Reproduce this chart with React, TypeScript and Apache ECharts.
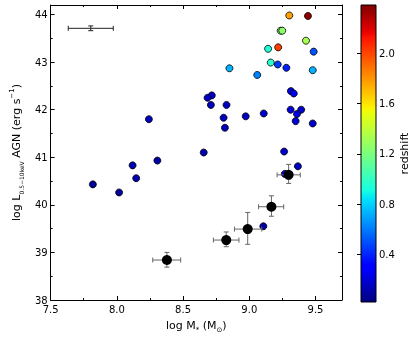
import React, { useEffect, useRef } from 'react';
import * as echarts from 'echarts';

// Individual AGN: log stellar mass, log X-ray luminosity, redshift
const agnMass = [9.302, 9.443, 9.237, 9.249, 9.428, 9.142, 9.218, 9.486, 9.162, 9.215, 9.280, 9.479, 8.850, 9.060,
  9.314, 9.336, 9.109, 9.312, 9.392, 9.360, 9.350, 9.479, 9.263, 8.717, 8.685, 8.710, 8.828, 8.806, 8.816, 8.973,
  8.656, 8.242, 8.306, 8.119, 8.146, 7.819, 8.017, 9.367, 9.268, 9.106];
const agnLum = [43.98, 43.97, 43.66, 43.66, 43.45, 43.28, 43.31, 43.22, 42.99, 42.95, 42.88, 42.83, 42.87, 42.73,
  42.39, 42.34, 41.92, 42.00, 42.00, 41.91, 41.76, 41.71, 41.12, 42.30, 42.25, 42.10, 42.10, 41.83, 41.62, 41.86,
  41.10, 41.80, 40.93, 40.83, 40.56, 40.43, 40.26, 40.81, 40.65, 39.55];
const agnZ = [1.77, 2.35, 1.20, 1.26, 1.33, 0.93, 2.02, 0.50, 0.97, 0.45, 0.38, 0.73, 0.73, 0.62,
  0.22, 0.24, 0.18, 0.20, 0.17, 0.22, 0.20, 0.17, 0.18, 0.16, 0.16, 0.15, 0.16, 0.15, 0.15, 0.16,
  0.12, 0.15, 0.10, 0.12, 0.12, 0.07, 0.08, 0.16, 0.16, 0.10];

// Stacked (black) points with error bars
const stackMass = [8.378, 8.826, 8.988, 9.167, 9.297];
const stackLum = [38.84, 39.26, 39.49, 39.96, 40.63];
const stackMassLo = [8.271, 8.729, 8.888, 9.070, 9.210];
const stackMassHi = [8.482, 8.922, 9.094, 9.260, 9.385];
const stackLumLo = [38.69, 39.12, 39.17, 39.76, 40.45];
const stackLumHi = [39.00, 39.43, 39.84, 40.19, 40.85];

// Typical error bar (top left)
const typMass = 7.803;
const typLum = 43.71;
const typMassErr = 0.17;
const typLumErr = 0.05;

const xTicks = [7.5, 8.0, 8.5, 9.0, 9.5];
const yTicks = [38, 39, 40, 41, 42, 43, 44];
const zTicks = [0.4, 0.8, 1.2, 1.6, 2.0];
const zMin = 0.021;
const zMax = 2.384;

function interp(t: number, pts: number[][]): number {
  for (let i = 0; i < pts.length - 1; i++) {
    const [x0, y0] = pts[i];
    const [x1, y1] = pts[i + 1];
    if (t >= x0 && t <= x1) return x1 === x0 ? y1 : y0 + (y1 - y0) * (t - x0) / (x1 - x0);
  }
  return pts[pts.length - 1][1];
}
function jet(t: number): string {
  const r = interp(t, [[0, 0], [0.35, 0], [0.66, 1], [0.89, 1], [1, 0.5]]);
  const g = interp(t, [[0, 0], [0.125, 0], [0.375, 1], [0.64, 1], [0.91, 0], [1, 0]]);
  const b = interp(t, [[0, 0.5], [0.11, 1], [0.34, 1], [0.65, 0], [1, 0]]);
  const h = (v: number) => Math.round(v * 255).toString(16).padStart(2, '0');
  return '#' + h(r) + h(g) + h(b);
}

const N = 64;
const jetColors: string[] = [];
for (let i = 0; i <= N; i++) jetColors.push(jet(i / N));

export default function App() {
  const ref = useRef<HTMLDivElement>(null);
  useEffect(() => {
    if (!ref.current) return;
    const chart = echarts.init(ref.current, null, { renderer: 'svg' });
    const gl = 39, gt = 5, gw = 303, gh = 297;
    const cbX = 361, cbW = 15;

    const agnData = agnMass.map((m, i) => [m, agnLum[i], agnZ[i]]);
    const stackData = stackMass.map((m, i) => [m, stackLum[i]]);
    const errData = stackMass.map((m, i) => [m, stackLum[i], stackMassLo[i], stackMassHi[i], stackLumLo[i], stackLumHi[i]]);
    const typData = [[typMass, typLum, typMass - typMassErr, typMass + typMassErr, typLum - typLumErr, typLum + typLumErr]];

    const errRender = (color: string) => (params: any, api: any) => {
      const x = api.value(0), y = api.value(1);
      const l = api.coord([api.value(2), y]);
      const r = api.coord([api.value(3), y]);
      const b = api.coord([x, api.value(4)]);
      const t = api.coord([x, api.value(5)]);
      const cap = 2.5;
      const style = { stroke: color, lineWidth: 1, fill: null };
      return {
        type: 'group',
        children: [
          { type: 'line', shape: { x1: l[0], y1: l[1], x2: r[0], y2: r[1] }, style },
          { type: 'line', shape: { x1: b[0], y1: b[1], x2: t[0], y2: t[1] }, style },
          { type: 'line', shape: { x1: l[0], y1: l[1] - cap, x2: l[0], y2: l[1] + cap }, style },
          { type: 'line', shape: { x1: r[0], y1: r[1] - cap, x2: r[0], y2: r[1] + cap }, style },
          { type: 'line', shape: { x1: b[0] - cap, y1: b[1], x2: b[0] + cap, y2: b[1] }, style },
          { type: 'line', shape: { x1: t[0] - cap, y1: t[1], x2: t[0] + cap, y2: t[1] }, style },
        ],
      };
    };

    const stops = jetColors.map((c, i) => ({ offset: i / N, color: c }));

    const axisCommon = {
      axisLine: { show: true, lineStyle: { color: '#000', width: 1 } },
      axisTick: { show: true, inside: true, length: 4, lineStyle: { color: '#000' } },
      minorTick: { show: true, splitNumber: 2, length: 2, lineStyle: { color: '#000' } },
      splitLine: { show: false },
    };

    chart.setOption({
      animation: false,
      textStyle: { fontFamily: 'DejaVu Sans' },
      grid: [
        { left: gl, top: gt, width: gw, height: gh },
        { left: cbX, top: gt, width: cbW, height: gh },
      ],
      xAxis: [
        {
          type: 'value', gridIndex: 0, position: 'bottom', min: 7.5, max: 9.7, interval: 0.5, ...axisCommon,
          axisLabel: { fontSize: 10, color: '#000', margin: 4, customValues: xTicks, formatter: (v: number) => v.toFixed(1) },
          name: '{n|log M}{s|*}{n| (M}{s|⊙}{n|)}', nameLocation: 'middle', nameGap: 17,
          nameTextStyle: {
            rich: {
              n: { fontSize: 11, color: '#000', lineHeight: 16, fontFamily: 'DejaVu Sans' },
              s: { fontSize: 7, color: '#000', lineHeight: 16, verticalAlign: 'bottom', fontFamily: 'DejaVu Sans' },
            },
          },
        },
        { type: 'value', gridIndex: 0, position: 'top', min: 7.5, max: 9.7, interval: 0.5, ...axisCommon, axisLabel: { show: false } },
        { type: 'value', gridIndex: 1, show: false, min: 0, max: 1 },
      ],
      yAxis: [
        {
          type: 'value', gridIndex: 0, position: 'left', min: 38, max: 44.2, interval: 1, ...axisCommon,
          axisLabel: { fontSize: 10, color: '#000', margin: 3, customValues: yTicks },
          name: '{n|log L}{s|0.5−10keV}{n| AGN (erg s}{p|−1}{n|)}', nameLocation: 'middle', nameGap: 24, nameRotate: 90,
          nameTextStyle: {
            rich: {
              n: { fontSize: 11, color: '#000', lineHeight: 16, fontFamily: 'DejaVu Sans' },
              s: { fontSize: 6, color: '#000', lineHeight: 16, verticalAlign: 'bottom', fontFamily: 'DejaVu Sans' },
              p: { fontSize: 7, color: '#000', lineHeight: 16, verticalAlign: 'top', fontFamily: 'DejaVu Sans' },
            },
          },
        },
        { type: 'value', gridIndex: 0, position: 'right', min: 38, max: 44.2, interval: 1, ...axisCommon, axisLabel: { show: false } },
        {
          type: 'value', gridIndex: 1, position: 'right', min: zMin, max: zMax,
          axisLine: { show: false }, splitLine: { show: false },
          axisTick: { show: true, inside: true, length: 4, lineStyle: { color: '#000' }, customValues: zTicks },
          axisLabel: { fontSize: 10, color: '#000', margin: 3, customValues: zTicks, formatter: (v: number) => v.toFixed(1) },
          name: 'redshift', nameLocation: 'middle', nameGap: 23, nameRotate: 90,
          nameTextStyle: { fontSize: 11, color: '#000' },
        },
      ],
      visualMap: {
        show: false, type: 'continuous', dimension: 2, seriesIndex: 0, min: zMin, max: zMax,
        inRange: { color: jetColors },
      },
      graphic: [
        {
          type: 'rect', z: -1,
          shape: { x: cbX, y: gt, width: cbW, height: gh },
          style: { fill: new echarts.graphic.LinearGradient(0, 1, 0, 0, stops), stroke: '#000', lineWidth: 1 },
        },
      ],
      series: [
        {
          type: 'scatter', xAxisIndex: 0, yAxisIndex: 0, data: agnData, symbolSize: 7,
          itemStyle: { borderColor: '#000', borderWidth: 0.8, opacity: 1 }, z: 3,
        },
        {
          type: 'custom', xAxisIndex: 0, yAxisIndex: 0, data: errData, renderItem: errRender('#666'),
          encode: { x: [0, 2, 3], y: [1, 4, 5] }, z: 4,
        },
        {
          type: 'scatter', xAxisIndex: 0, yAxisIndex: 0, data: stackData, symbolSize: 10,
          itemStyle: { color: '#000', opacity: 1 }, z: 5,
        },
        {
          type: 'custom', xAxisIndex: 0, yAxisIndex: 0, data: typData, renderItem: errRender('#222'),
          encode: { x: [0, 2, 3], y: [1, 4, 5] }, z: 4,
        },
      ],
    });
    return () => chart.dispose();
  }, []);
  return <div ref={ref} style={{ position: 'fixed', left: 0, top: 0, width: 415, height: 338 }} />;
}
